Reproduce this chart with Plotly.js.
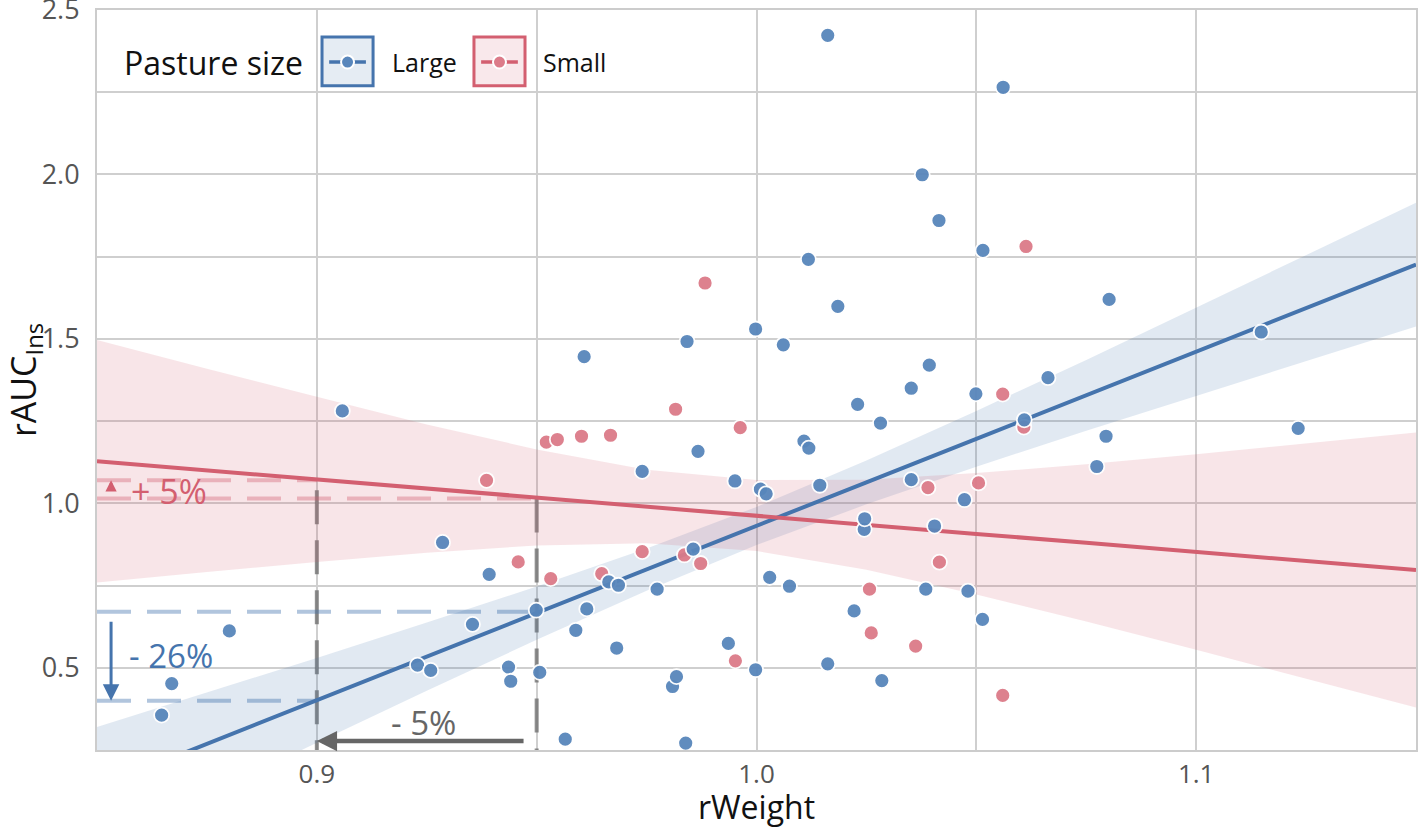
<!DOCTYPE html>
<html>
<head>
<meta charset="utf-8">
<script src="https://cdn.plot.ly/plotly-3.0.1.min.js"></script>
<style>html,body{margin:0;padding:0;background:#fff;}#chart{width:1418px;height:828px;}</style>
</head>
<body>
<div id="chart"></div>
<script>
// ---------- data ----------
const largeWeight = [0.8647,0.8670,0.8801,0.9058,0.9229,0.9259,0.9286,0.9354,0.9392,0.9436,
  0.9441,0.9499,0.9507,0.9565,0.9589,0.9608,0.9614,0.9664,0.9682,0.9686,
  0.9740,0.9774,0.9809,0.9818,0.9839,0.9842,0.9856,0.9867,0.9936,0.9951,
  0.9998,0.9998,1.0009,1.0022,1.0030,1.0061,1.0075,1.0108,1.0119,1.0118,
  1.0144,1.0162,1.0162,1.0185,1.0222,1.0230,1.0245,1.0246,1.0282,1.0285,
  1.0352,1.0352,1.0377,1.0385,1.0393,1.0405,1.0415,1.0473,1.0481,1.0499,
  1.0514,1.0515,1.0561,1.0609,1.0663,1.0774,1.0795,1.0802,1.1148,1.1232];
const largeAUC = [0.356,0.452,0.612,1.281,0.508,0.492,0.881,0.632,0.784,0.502,
  0.459,0.675,0.486,0.283,0.614,1.446,0.679,0.761,0.560,0.751,
  1.097,0.739,0.443,0.473,0.271,1.492,0.861,1.158,0.574,1.068,
  0.494,1.530,1.043,1.029,0.775,1.482,0.748,1.189,1.168,1.742,
  1.055,0.512,2.423,1.599,0.673,1.301,0.921,0.953,1.244,0.461,
  1.350,1.072,1.999,0.739,1.420,0.931,1.860,1.011,0.733,1.333,
  0.647,1.769,2.265,1.254,1.382,1.112,1.204,1.620,1.521,1.228];
const smallWeight = [0.9386,0.9458,0.9522,0.9532,0.9547,0.9602,0.9648,0.9668,0.9740,0.9816,
  0.9836,0.9873,0.9883,0.9952,0.9963,1.0257,1.0261,1.0362,1.0390,1.0416,
  1.0505,1.0560,1.0560,1.0608,1.0613];
const smallAUC = [1.070,0.822,1.186,0.771,1.194,1.204,0.786,1.207,0.853,1.286,
  0.843,0.817,1.670,0.521,1.230,0.739,0.606,0.566,1.048,0.821,
  1.062,1.332,0.416,1.232,1.781];

// fitted lines and 95% bands, read at these rWeight values
const fitWeight  = [0.85,0.875,0.90,0.925,0.95,0.975,1.00,1.025,1.05,1.075,1.10,1.125,1.15];
const largeFit   = [0.136,0.269,0.401,0.534,0.666,0.799,0.931,1.064,1.196,1.329,1.461,1.594,1.726];
const largeUpper = [0.320,0.425,0.530,0.638,0.747,0.863,0.989,1.130,1.281,1.436,1.595,1.754,1.914];
const largeLower = [-0.048,0.112,0.272,0.430,0.585,0.734,0.873,0.997,1.111,1.221,1.327,1.433,1.538];
const smallFit   = [1.128,1.100,1.073,1.045,1.018,0.990,0.963,0.935,0.907,0.880,0.852,0.825,0.797];
const smallUpper = [1.497,1.409,1.324,1.240,1.164,1.102,1.071,1.072,1.092,1.119,1.149,1.182,1.215];
const smallLower = [0.759,0.791,0.822,0.850,0.872,0.879,0.855,0.798,0.723,0.641,0.555,0.468,0.379];

const xTickVals = [0.9,1.0,1.1];
const xTickText = ['0.9','1.0','1.1'];
const yTickVals = [0.5,1.0,1.5,2.0,2.5];
const yTickText = ['0.5','1.0','1.5','2.0','2.5'];
const xMinorVals = [0.95,1.05];
const yMinorVals = [0.75,1.25,1.75,2.25];

// reference markings
const refWeight = [0.95, 0.90];     // rWeight from -> to
const refLarge  = [0.67, 0.40];     // rAUC Large from -> to
const refSmall  = [1.015, 1.07];    // rAUC Small from -> to
const refLabels = ['- 5%', '- 26%', '+ 5%'];
const groupNames = ['Large','Small'];
const legendTitle = 'Pasture size';

// ---------- styles ----------
const BLUE = '#4574ad', BLUE_PT = '#5886bb';
const RED = '#d35f70', RED_PT = '#dc7b89';
const FONT = '"Open Sans", "Noto Sans", sans-serif';

function band(x, up, lo, color) {
  return {x: x.concat(x.slice().reverse()), y: up.concat(lo.slice().reverse()),
    type:'scatter', mode:'lines', fill:'toself', fillcolor:color,
    line:{width:0}, hoverinfo:'skip', showlegend:false};
}

const traces = [
  band(fitWeight, largeUpper, largeLower, 'rgba(69,117,173,0.16)'),
  band(fitWeight, smallUpper, smallLower, 'rgba(211,95,112,0.16)'),
  {x: fitWeight, y: largeFit, type:'scatter', mode:'lines', line:{color:BLUE, width:4}, showlegend:false, hoverinfo:'skip'},
  {x: fitWeight, y: smallFit, type:'scatter', mode:'lines', line:{color:RED, width:4}, showlegend:false, hoverinfo:'skip'},
  {x: smallWeight, y: smallAUC, name: groupNames[1], type:'scatter', mode:'markers',
    marker:{color:RED_PT, size:15, opacity:0.95, line:{color:'#ffffff', width:1.8}}, showlegend:false},
  {x: largeWeight, y: largeAUC, name: groupNames[0], type:'scatter', mode:'markers',
    marker:{color:BLUE_PT, size:15, opacity:0.95, line:{color:'#ffffff', width:1.8}}, showlegend:false}
];

const GRID = '#cfcfcf';
const dashPat = '34px,16px';
const shapes = [
  {type:'line', layer:'between', x0:refWeight[1], x1:refWeight[1], y0:1.04, y1:0.25, line:{color:'rgba(105,105,105,0.75)', width:4, dash:dashPat}},
  {type:'line', layer:'between', x0:refWeight[0], x1:refWeight[0], y0:refSmall[0], y1:0.25, line:{color:'rgba(105,105,105,0.75)', width:4, dash:dashPat}},
  {type:'line', layer:'between', x0:0.85, x1:refWeight[0], y0:refLarge[0], y1:refLarge[0], line:{color:'rgba(69,117,173,0.42)', width:4, dash:dashPat}},
  {type:'line', layer:'between', x0:0.85, x1:refWeight[1], y0:refLarge[1], y1:refLarge[1], line:{color:'rgba(69,117,173,0.42)', width:4, dash:dashPat}},
  {type:'line', layer:'between', x0:0.85, x1:refWeight[1], y0:refSmall[1], y1:refSmall[1], line:{color:'rgba(211,95,112,0.38)', width:4, dash:dashPat}},
  {type:'line', layer:'between', x0:0.85, x1:refWeight[0], y0:refSmall[0], y1:refSmall[0], line:{color:'rgba(211,95,112,0.38)', width:4, dash:dashPat}}
];

// custom legend (paper coordinates)
const legY = 0.9297;
function legendKey(x0, x1, color, ptColor, fill) {
  const cx = (x0 + x1) / 2, w = x1 - x0;
  shapes.push({type:'rect', xref:'paper', yref:'paper', x0:x0, x1:x1, y0:0.8975, y1:0.9635,
    line:{color:color, width:3}, fillcolor:fill, layer:'above'});
  shapes.push({type:'line', xref:'paper', yref:'paper', x0:x0 + w*0.14, x1:x1 - w*0.14, y0:legY, y1:legY,
    line:{color:color, width:3.5}, layer:'above'});
  shapes.push({type:'circle', xref:'paper', yref:'paper', xsizemode:'pixel', ysizemode:'pixel',
    xanchor:cx, yanchor:legY, x0:-6.5, x1:6.5, y0:-6.5, y1:6.5,
    fillcolor:ptColor, line:{color:'#ffffff', width:2}, layer:'above'});
}
legendKey(0.1706, 0.2093, BLUE, BLUE_PT, 'rgba(69,117,173,0.14)');
legendKey(0.2858, 0.3245, RED, RED_PT, 'rgba(211,95,112,0.14)');

const annotations = [
  {xref:'paper', yref:'paper', x:0.0190, y:legY, xanchor:'left', yanchor:'middle', showarrow:false,
    text:legendTitle, font:{family:FONT, size:32, color:'#111'}},
  {xref:'paper', yref:'paper', x:0.2221, y:legY, xanchor:'left', yanchor:'middle', showarrow:false,
    text:groupNames[0], font:{family:FONT, size:25, color:'#111'}},
  {xref:'paper', yref:'paper', x:0.3366, y:legY, xanchor:'left', yanchor:'middle', showarrow:false,
    text:groupNames[1], font:{family:FONT, size:25, color:'#111'}},
  // arrows
  {x:refWeight[1], y:0.277, ax:refWeight[0]-0.0023, ay:0.277, axref:'x', ayref:'y', text:' ', showarrow:true,
    arrowhead:2, arrowsize:0.9, arrowwidth:4.5, arrowcolor:'#666666', standoff:0},
  {x:0.8532, y:refLarge[1], ax:0.8532, ay:refLarge[0], axref:'x', ayref:'y', text:' ', showarrow:true,
    arrowhead:2, arrowsize:1.1, arrowwidth:3, arrowcolor:BLUE, standoff:0},
  {x:0.8532, y:refSmall[1], ax:0.8532, ay:refSmall[0], axref:'x', ayref:'y', text:' ', showarrow:true,
    arrowhead:2, arrowsize:0.75, arrowwidth:3, arrowcolor:RED, standoff:0},
  // labels
  {x:0.9164, y:0.334, xanchor:'left', yanchor:'middle', showarrow:false, text:refLabels[0],
    font:{family:FONT, size:33, color:'#666666'}},
  {x:0.8568, y:0.538, xanchor:'left', yanchor:'middle', showarrow:false, text:refLabels[1],
    font:{family:FONT, size:33, color:BLUE}},
  {x:0.8573, y:1.038, xanchor:'left', yanchor:'middle', showarrow:false, text:refLabels[2],
    font:{family:FONT, size:34, color:RED}}
];

const layout = {
  width:1418, height:828,
  margin:{l:97, r:2, t:10, b:78, pad:0},
  paper_bgcolor:'#ffffff', plot_bgcolor:'#ffffff',
  font:{family:FONT, color:'#555'},
  showlegend:false,
  xaxis:{range:[0.85,1.15], tickmode:'array', tickvals:xTickVals, ticktext:xTickText,
    showgrid:true, gridcolor:GRID, gridwidth:2, zeroline:false,
    showline:true, mirror:true, linecolor:'#cccccc', linewidth:2,
    ticks:'', ticklabelstandoff:0, ticklabeloverflow:'allow', tickfont:{family:FONT, size:26, color:'#555'},
    minor:{tickmode:'array', tickvals:xMinorVals, showgrid:true, gridcolor:GRID, gridwidth:2, ticks:''},
    title:{text:'rWeight', font:{family:FONT, size:32, color:'#111'}, standoff:8}},
  yaxis:{range:[0.25,2.5], tickmode:'array', tickvals:yTickVals, ticktext:yTickText,
    showgrid:true, gridcolor:GRID, gridwidth:2, zeroline:false,
    showline:true, mirror:true, linecolor:'#cccccc', linewidth:2,
    ticks:'', ticklabelstandoff:10, ticklabeloverflow:'allow', tickfont:{family:FONT, size:27, color:'#555'},
    minor:{tickmode:'array', tickvals:yMinorVals, showgrid:true, gridcolor:GRID, gridwidth:2, ticks:''},
    title:{text:'rAUC<sub>Ins</sub>', font:{family:FONT, size:34, color:'#111'}, standoff:10}},
  shapes:shapes,
  annotations:annotations
};

Plotly.newPlot('chart', traces, layout, {staticPlot:true, displayModeBar:false});
</script>
</body>
</html>
